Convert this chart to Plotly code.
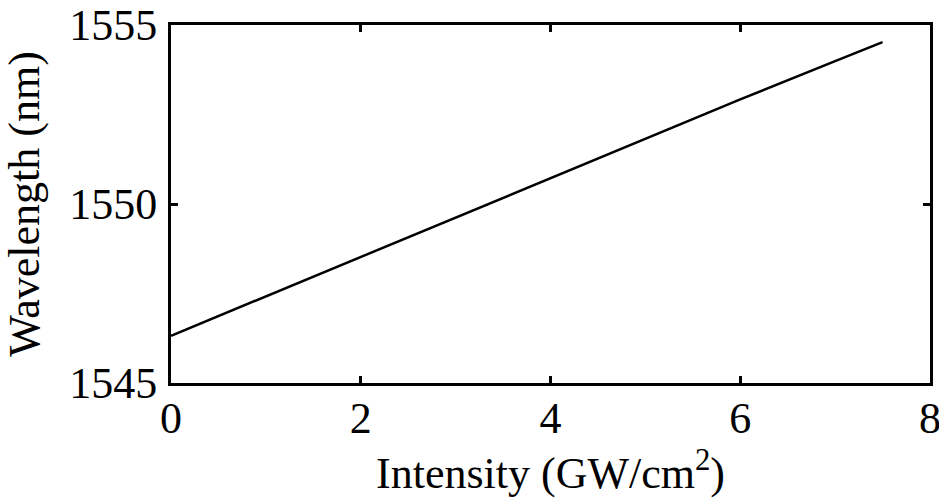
import plotly.graph_objects as go

intensity = [0, 1, 2, 3, 4, 5, 6, 7, 7.5]
wavelength = [1546.32, 1547.42, 1548.53, 1549.63, 1550.73, 1551.83, 1552.92, 1553.99, 1554.52]

x_ticks = [0, 2, 4, 6, 8]
y_ticks = [1545, 1550, 1555]

fig = go.Figure()
fig.add_trace(go.Scatter(x=intensity, y=wavelength, mode="lines",
                         line=dict(color="black", width=2.5), showlegend=False))

font = dict(family="Liberation Serif", size=44, color="black")
axis_common = dict(showline=True, linecolor="black", linewidth=3, mirror="ticks",
                   ticks="inside", ticklen=7, tickwidth=3, tickcolor="black",
                   showgrid=False, zeroline=False, tickfont=font, automargin=False,
                   ticklabeloverflow="allow")

fig.update_layout(
    width=939, height=504,
    margin=dict(l=171, r=9, t=25, b=121),
    paper_bgcolor="white", plot_bgcolor="white",
    font=font,
    xaxis=dict(range=[0, 8], tickvals=x_ticks, ticktext=[str(v) for v in x_ticks],
               ticklabelstandoff=-6,
               title=dict(text="Intensity (GW/cm<sup>2</sup>)", font=font, standoff=12),
               **axis_common),
    yaxis=dict(range=[1545, 1555], tickvals=y_ticks, ticktext=[str(v) for v in y_ticks],
               ticklabelstandoff=2,
               title=dict(text="Wavelength (nm)", font=font, standoff=28),
               **axis_common),
)

fig.write_html("out.html", config={"displayModeBar": False},
               post_script="document.body.style.margin='0';")
